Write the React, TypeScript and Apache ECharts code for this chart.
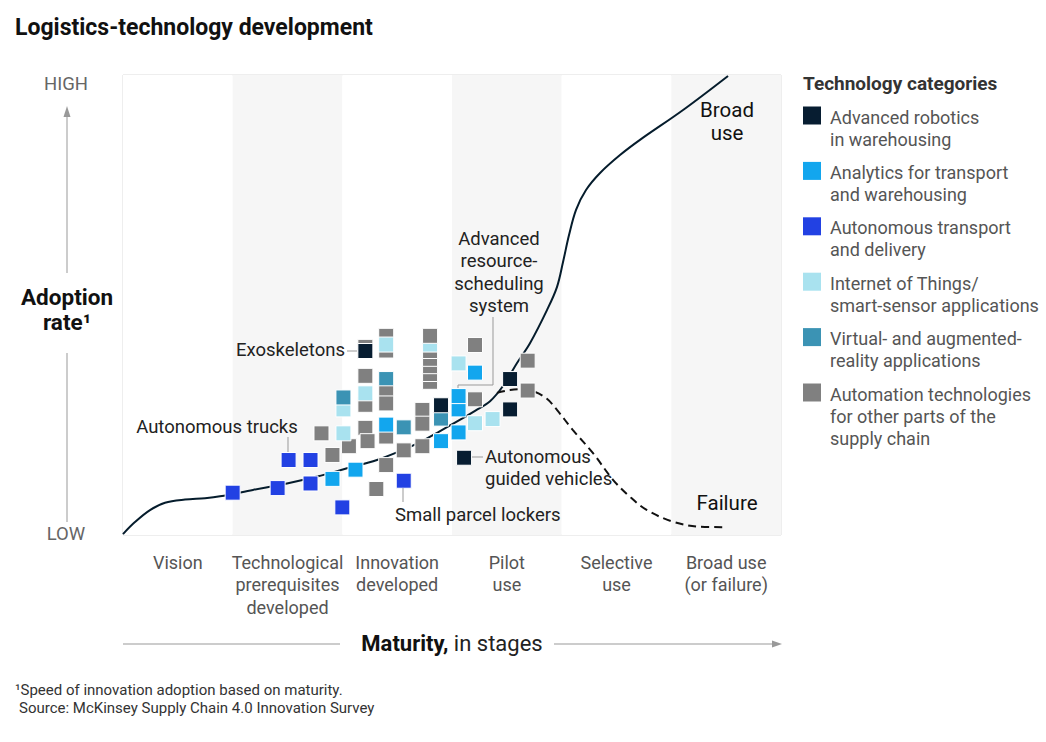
import React, { useEffect, useRef } from "react";
import * as echarts from "echarts";

const FONT = 'Roboto, "Noto Sans", Arial, sans-serif';

const stages = [
  "Vision",
  "Technological\nprerequisites\ndeveloped",
  "Innovation\ndeveloped",
  "Pilot\nuse",
  "Selective\nuse",
  "Broad use\n(or failure)",
];

const categories = [
  "Advanced robotics\nin warehousing",
  "Analytics for transport\nand warehousing",
  "Autonomous transport\nand delivery",
  "Internet of Things/\nsmart-sensor applications",
  "Virtual- and augmented-\nreality applications",
  "Automation technologies\nfor other parts of the\nsupply chain",
];
const categoryColors = ["#071d31", "#12a6ee", "#2241e3", "#a9e2ef", "#3b93b4", "#808080"];

// [maturity (stages), adoption rate, category index] — in drawing order
const squares: [number, number, number][] = [
  [1.0, 9.2, 2],
  [1.41, 10.2, 2],
  [1.71, 11.2, 2],
  [1.51, 16.3, 2],
  [1.71, 16.3, 2],
  [2.0, 6.0, 2],
  [2.56, 11.8, 2],
  [1.91, 12.2, 1],
  [2.12, 14.2, 1],
  [1.81, 22.1, 5],
  [1.91, 17.4, 5],
  [2.06, 19.3, 5],
  [2.21, 23.3, 5],
  [2.23, 20.4, 5],
  [2.31, 10.0, 5],
  [2.4, 15.2, 5],
  [2.56, 18.4, 5],
  [2.73, 19.3, 5],
  [2.01, 22.1, 3],
  [2.01, 27.3, 3],
  [2.01, 29.9, 4],
  [2.21, 28.3, 5],
  [2.21, 30.8, 3],
  [2.21, 34.6, 5],
  [2.21, 40.9, 5],
  [2.21, 40.0, 0],
  [2.4, 43.3, 5],
  [2.4, 40.1, 5],
  [2.4, 41.4, 3],
  [2.4, 33.9, 4],
  [2.4, 30.8, 5],
  [2.4, 28.6, 5],
  [2.4, 21.4, 5],
  [2.4, 24.0, 1],
  [2.56, 23.4, 4],
  [2.73, 27.2, 5],
  [2.73, 24.2, 5],
  [2.8, 33.3, 5],
  [2.8, 35.0, 5],
  [2.8, 36.7, 5],
  [2.8, 38.3, 5],
  [2.8, 40.0, 5],
  [2.8, 41.4, 3],
  [2.8, 43.3, 5],
  [2.9, 25.3, 4],
  [2.9, 28.2, 0],
  [2.9, 20.4, 1],
  [3.06, 27.3, 1],
  [3.06, 30.2, 1],
  [3.06, 22.3, 1],
  [3.06, 37.3, 3],
  [3.11, 16.8, 0],
  [3.21, 41.3, 5],
  [3.21, 35.3, 1],
  [3.21, 29.5, 5],
  [3.21, 24.3, 3],
  [3.37, 25.2, 3],
  [3.53, 33.9, 0],
  [3.53, 27.3, 0],
  [3.69, 37.9, 5],
  [3.69, 31.4, 5],
];

const broadUseCurve: [number, number][] = [
  [0.0, 0.2], [0.109, 2.8], [0.246, 5.4], [0.383, 7.0], [0.565, 7.7], [0.748, 8.0],
  [0.885, 8.4], [1.185, 9.8], [1.495, 11.2], [1.769, 12.7], [2.043, 14.5], [2.316, 16.3],
  [2.553, 18.5], [2.708, 20.2], [2.891, 22.6], [3.055, 24.8], [3.21, 27.0], [3.347, 29.1],
  [3.465, 32.4], [3.593, 37.4], [3.711, 41.7], [3.866, 48.9], [3.957, 53.9], [4.012, 59.3],
  [4.067, 65.2], [4.131, 70.7], [4.222, 75.0], [4.35, 78.7], [4.532, 82.6], [4.714, 85.9],
  [5.107, 92.4], [5.517, 99.8],
];

const failureCurve: [number, number][] = [
  [3.41, 30.9], [3.529, 31.5], [3.638, 31.7], [3.757, 31.1], [3.866, 29.6], [3.957, 27.2],
  [4.103, 22.8], [4.286, 17.8], [4.468, 12.0], [4.623, 8.3], [4.778, 5.4], [5.015, 2.9],
  [5.261, 1.8], [5.508, 1.7],
];

function txt(x: number, y: number, text: string, o: any = {}) {
  const size = o.size || 18.5;
  return {
    type: "text",
    x,
    y,
    z: 100,
    silent: true,
    style: {
      text,
      fill: o.fill || "#222",
      fontSize: size,
      fontWeight: o.weight || "normal",
      fontFamily: FONT,
      align: o.align || "left",
      textAlign: o.align || "left",
      verticalAlign: o.va || "middle",
      textVerticalAlign: o.va || "middle",
      lineHeight: o.lineHeight || Math.round(size * 1.25),
      rich: o.rich,
    },
  };
}
function ln(x1: number, y1: number, x2: number, y2: number, stroke = "#999") {
  return { type: "line", z: 100, silent: true, shape: { x1, y1, x2, y2 }, style: { stroke, lineWidth: 1 } };
}

export default function App() {
  const ref = useRef<HTMLDivElement>(null);
  useEffect(() => {
    if (!ref.current) return;
    const chart = echarts.init(ref.current, undefined, { renderer: "svg" });

    const legendEls: any[] = [
      txt(803, 83, "Technology categories", { weight: "bold", fill: "#333", size: 19 }),
    ];
    categories.forEach((c, i) => {
      const cy = 115.5 + i * 55.4;
      legendEls.push({
        type: "rect",
        z: 100,
        silent: true,
        shape: { x: 803, y: cy - 9, width: 18, height: 18 },
        style: { fill: categoryColors[i] },
      });
      legendEls.push(txt(830, cy - 9.5, c, { va: "top", fill: "#555", lineHeight: 22, size: 18 }));
    });

    const option: any = {
      animation: false,
      textStyle: { fontFamily: FONT },
      grid: {
        left: 123,
        top: 75,
        width: 658,
        height: 460,
        show: true,
        borderColor: "#dddddd",
        borderWidth: 1,
        containLabel: false,
      },
      xAxis: [
        { type: "value", min: 0, max: 6, show: false },
        {
          type: "category",
          data: stages,
          position: "bottom",
          boundaryGap: true,
          axisLine: { show: false },
          axisTick: { show: false },
          splitLine: { show: false },
          splitArea: { show: true, areaStyle: { color: ["#ffffff", "#f6f6f6"] } },
          axisLabel: {
            interval: 0,
            color: "#555",
            fontSize: 18,
            lineHeight: 22.5,
            margin: 16,
            fontFamily: FONT,
          },
        },
      ],
      yAxis: { type: "value", min: 0, max: 100, show: false },
      series: [
        {
          type: "line",
          xAxisIndex: 0,
          data: broadUseCurve,
          smooth: 0.35,
          symbol: "none",
          silent: true,
          lineStyle: { color: "#051c2c", width: 2 },
          z: 2,
        },
        {
          type: "line",
          xAxisIndex: 0,
          data: failureCurve,
          smooth: 0.35,
          symbol: "none",
          silent: true,
          lineStyle: { color: "#111", width: 2, type: [8, 5] },
          z: 2,
        },
        {
          type: "scatter",
          xAxisIndex: 0,
          symbol: "rect",
          symbolSize: 15,
          silent: true,
          z: 3,
          itemStyle: { borderColor: "#ffffff", borderWidth: 1, opacity: 1 },
          data: squares.map(([x, y, c]) => ({
            value: [x, y],
            itemStyle: { color: categoryColors[c], opacity: 1 },
          })),
        },
      ],
      graphic: [
        txt(15, 27, "Logistics-technology development", { size: 23, weight: "bold", fill: "#111" }),
        // vertical axis
        txt(66, 84, "HIGH", { align: "center", fill: "#666", size: 18.5 }),
        txt(66, 534, "LOW", { align: "center", fill: "#666", size: 18.5 }),
        txt(67, 309, "Adoption\nrate¹", { align: "center", size: 22.5, weight: "bold", fill: "#111", lineHeight: 25 }),
        ln(67, 522, 67, 353),
        ln(67, 273, 67, 114),
        { type: "polygon", z: 100, silent: true, shape: { points: [[63.5, 117], [70.5, 117], [67, 106]] }, style: { fill: "#999" } },
        // horizontal axis
        ln(123, 644, 340, 644),
        ln(554, 644, 774, 644),
        { type: "polygon", z: 100, silent: true, shape: { points: [[772, 640.5], [772, 647.5], [782, 644]] }, style: { fill: "#999" } },
        txt(452, 643, "{b|Maturity,}{n| in stages}", {
          align: "center",
          size: 22,
          rich: {
            b: { fontWeight: "bold", fontSize: 22, fill: "#111", fontFamily: FONT },
            n: { fontSize: 22, fill: "#222", fontFamily: FONT },
          },
        }),
        // annotations
        txt(345, 350, "Exoskeletons", { align: "right" }),
        ln(347, 351, 357, 351),
        txt(217, 427, "Autonomous trucks", { align: "center" }),
        ln(288, 437, 288, 452),
        txt(499, 272.5, "Advanced\nresource-\nscheduling\nsystem", { align: "center", lineHeight: 22.3 }),
        { type: "polyline", z: 100, silent: true, shape: { points: [[493, 317], [493, 385], [458, 385], [458, 388]] }, style: { stroke: "#999", lineWidth: 1, fill: null } },
        txt(485, 468, "Autonomous\nguided vehicles", { lineHeight: 22 }),
        ln(472, 457, 483, 457),
        txt(395, 515, "Small parcel lockers"),
        ln(403, 488, 403, 502),
        txt(727, 121.5, "Broad\nuse", { align: "center", size: 20.5, lineHeight: 23, fill: "#111" }),
        txt(727, 503, "Failure", { align: "center", size: 20.5, fill: "#111" }),
        // legend
        ...legendEls,
        // footnote
        txt(15, 690, "¹Speed of innovation adoption based on maturity.", { size: 15, fill: "#333" }),
        txt(19, 708, "Source: McKinsey Supply Chain 4.0 Innovation Survey", { size: 15, fill: "#333" }),
      ],
    };
    chart.setOption(option);
    return () => chart.dispose();
  }, []);
  return (
    <div
      ref={ref}
      style={{ position: "fixed", left: 0, top: 0, width: 1046, height: 742, background: "#fff" }}
    />
  );
}
